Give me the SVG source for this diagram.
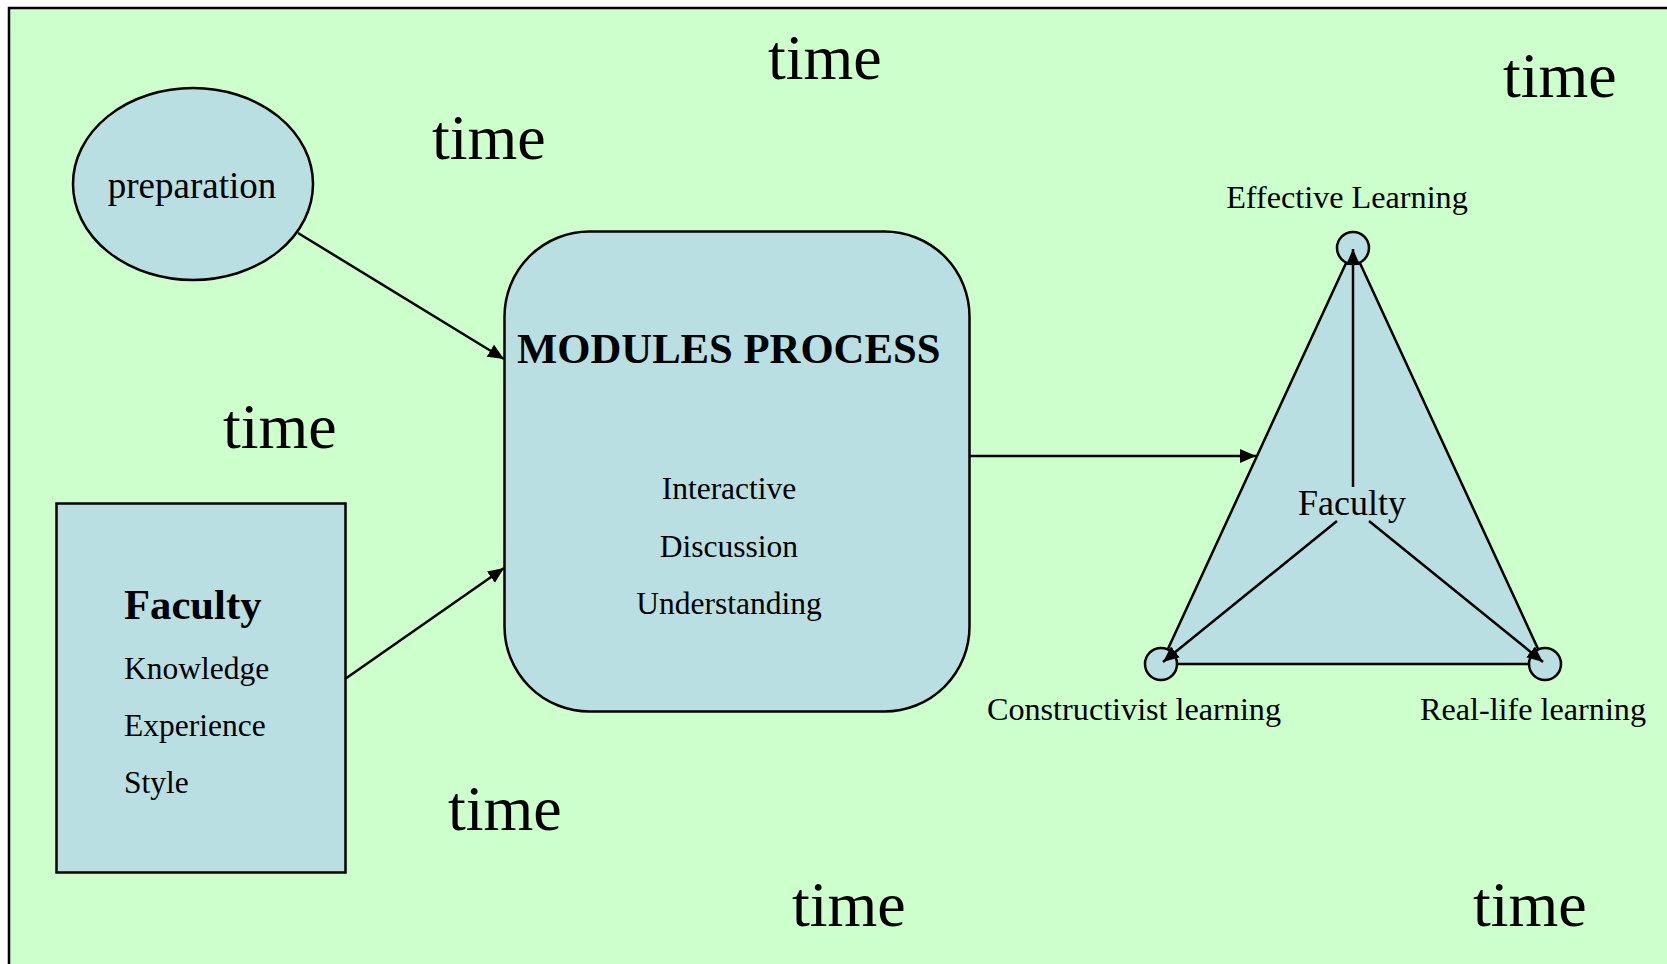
<svg xmlns="http://www.w3.org/2000/svg" width="1667" height="964" viewBox="0 0 1667 964">
  <style>
    .shape { fill: #B9DFE2; stroke: #000; stroke-width: 2.5; }
    .edge { fill: none; stroke: #000; stroke-width: 2.5; }
    .serif { font-family: "Liberation Serif", "Times New Roman", serif; fill: #000; }
    .time { font-size: 64px; }
    .label { font-size: 31.5px; }
    .corner { font-size: 32.2px; }
    .title { font-size: 42.7px; font-weight: bold; }
  </style>
  <defs>
    <marker id="arrow" markerUnits="userSpaceOnUse" markerWidth="18" markerHeight="14" refX="16" refY="7" orient="auto">
      <path d="M0,0 L16,7 L0,14 Z" fill="#000"/>
    </marker>
  </defs>

  <!-- page background -->
  <rect x="0" y="0" width="1667" height="964" fill="#FFFFFF"/>
  <rect x="9" y="8" width="1700" height="1000" fill="#CCFFCC" stroke="#000" stroke-width="2.5"/>

  <!-- scattered "time" words -->
  <g id="time-words" class="serif time">
    <text x="432" y="159">time</text>
    <text x="768" y="79">time</text>
    <text x="1503" y="97">time</text>
    <text x="223" y="448">time</text>
    <text x="448" y="830">time</text>
    <text x="792" y="926">time</text>
    <text x="1473" y="926">time</text>
  </g>

  <!-- preparation -->
  <g id="preparation">
    <ellipse class="shape" cx="193" cy="184" rx="120" ry="96"/>
    <text class="serif" x="192" y="198" font-size="37" text-anchor="middle">preparation</text>
  </g>

  <!-- faculty attributes -->
  <g id="faculty-box">
    <rect class="shape" x="56.5" y="503.5" width="289" height="369"/>
    <text class="serif title" x="124" y="619">Faculty</text>
    <text class="serif label" x="124" y="679">Knowledge</text>
    <text class="serif label" x="124" y="736">Experience</text>
    <text class="serif label" x="124" y="793">Style</text>
  </g>

  <!-- modules process -->
  <g id="modules-process">
    <rect class="shape" x="504.5" y="231.5" width="465" height="480" rx="85" ry="85"/>
    <text class="serif title" x="517" y="363">MODULES PROCESS</text>
    <text class="serif label" x="729" y="499" text-anchor="middle">Interactive</text>
    <text class="serif label" x="729" y="557" text-anchor="middle">Discussion</text>
    <text class="serif label" x="729" y="614" text-anchor="middle">Understanding</text>
  </g>

  <!-- learning triangle -->
  <g id="learning-triangle">
    <polygon class="shape" points="1353,248 1161,664 1545,664"/>
    <text class="serif" x="1352" y="515" font-size="36" text-anchor="middle">Faculty</text>
  </g>
  <g id="effective-learning">
    <circle class="shape" cx="1353" cy="248" r="16"/>
    <text class="serif corner" x="1347" y="208" text-anchor="middle">Effective Learning</text>
  </g>
  <g id="constructivist-learning">
    <circle class="shape" cx="1161" cy="664" r="16"/>
    <text class="serif corner" x="1134" y="720" text-anchor="middle">Constructivist learning</text>
  </g>
  <g id="real-life-learning">
    <circle class="shape" cx="1545" cy="664" r="16"/>
    <text class="serif corner" x="1533" y="720" text-anchor="middle">Real-life learning</text>
  </g>

  <!-- connectors -->
  <g id="connectors" class="edge">
    <line x1="298" y1="233" x2="504" y2="359" marker-end="url(#arrow)"/>
    <line x1="345" y1="679" x2="504" y2="568" marker-end="url(#arrow)"/>
    <line x1="969" y1="456" x2="1256" y2="456" marker-end="url(#arrow)"/>
    <line x1="1353" y1="487" x2="1353" y2="249" marker-end="url(#arrow)"/>
    <line x1="1337" y1="521" x2="1163" y2="662" marker-end="url(#arrow)"/>
    <line x1="1369" y1="521" x2="1543" y2="662" marker-end="url(#arrow)"/>
  </g>
</svg>
